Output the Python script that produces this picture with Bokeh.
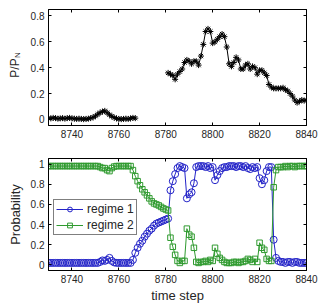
import numpy as np
from bokeh.plotting import figure
from bokeh.layouts import column, row
from bokeh.models import (FixedTicker, LinearAxis, Range1d, Legend,
                          LegendItem, CustomJSTickFormatter)
from bokeh.core.properties import value
from bokeh.embed import file_html
from bokeh.resources import INLINE

# ---- data -------------------------------------------------------------
# normalised power P/P_N, first segment starts at step 8730
power_start_a = 8730
power_a = [0.010, 0.008, 0.012, 0.010, 0.006, 0.008, 0.010, 0.006, 0.010, 0.012,
           0.008, 0.006, 0.004, 0.006, 0.004, 0.002, 0.004, 0.006, 0.010, 0.016,
           0.026, 0.040, 0.052, 0.060, 0.066, 0.052, 0.036, 0.024, 0.014, 0.008,
           0.004, 0.002, 0.004, 0.006, 0.004, 0.008, 0.012, 0.010]
# second segment starts at step 8781
power_start_b = 8781
power_b = [0.36, 0.35, 0.34, 0.31, 0.35, 0.37, 0.39, 0.44, 0.46, 0.45,
           0.43, 0.45, 0.45, 0.42, 0.49, 0.58, 0.68, 0.70, 0.68, 0.59,
           0.60, 0.62, 0.64, 0.66, 0.64, 0.56, 0.43, 0.41, 0.44, 0.48,
           0.46, 0.39, 0.39, 0.42, 0.43, 0.39, 0.41, 0.40, 0.35, 0.38,
           0.38, 0.36, 0.34, 0.27, 0.25, 0.24, 0.24, 0.24, 0.24, 0.245,
           0.23, 0.22, 0.20, 0.18, 0.15, 0.13, 0.14, 0.15, 0.145, 0.15]

# regime probabilities, steps 8730 .. 8840
prob_start = 8730
regime1 = [0.02] * 21 + [
    0.02, 0.03, 0.045, 0.04, 0.05, 0.07, 0.04, 0.025, 0.02, 0.02,   # 8751-8760
    0.02, 0.02, 0.02, 0.02, 0.02, 0.05, 0.12, 0.17, 0.21, 0.24,     # 8761-8770
    0.28, 0.31, 0.34, 0.36, 0.39, 0.41, 0.42, 0.43, 0.44, 0.45,     # 8771-8780
    0.46, 0.74, 0.83, 0.90, 0.96, 0.98, 0.97, 0.96, 0.66, 0.70,     # 8781-8790
    0.72, 0.81, 0.97, 0.98, 0.98, 0.98, 0.97, 0.98, 0.96, 0.97,     # 8791-8800
    0.84, 0.89, 0.93, 0.96, 0.97, 0.97, 0.98, 0.98, 0.98, 0.97,     # 8801-8810
    0.98, 0.98, 0.97, 0.98, 0.96, 0.95, 0.97, 0.96, 0.97, 0.86,     # 8811-8820
    0.80, 0.84, 0.93, 0.97, 0.97, 0.25, 0.07, 0.04, 0.03, 0.03,     # 8821-8830
    0.02, 0.03, 0.03, 0.02, 0.03, 0.03, 0.02, 0.02, 0.02, 0.02]     # 8831-8840
regime2 = [0.98] * 21 + [
    0.98, 0.97, 0.96, 0.96, 0.94, 0.93, 0.96, 0.975, 0.98, 0.98,
    0.98, 0.98, 0.98, 0.98, 0.98, 0.94, 0.88, 0.83, 0.79, 0.75,
    0.72, 0.69, 0.66, 0.63, 0.61, 0.60, 0.59, 0.575, 0.56, 0.55,
    0.54, 0.27, 0.18, 0.10, 0.04, 0.02, 0.04, 0.04, 0.36, 0.30,
    0.28, 0.17, 0.03, 0.02, 0.03, 0.03, 0.04, 0.03, 0.05, 0.04,
    0.17, 0.11, 0.07, 0.05, 0.03, 0.02, 0.02, 0.02, 0.03, 0.03,
    0.02, 0.03, 0.03, 0.04, 0.06, 0.05, 0.03, 0.06, 0.03, 0.22,
    0.17, 0.15, 0.06, 0.04, 0.04, 0.77, 0.94, 0.97, 0.97, 0.97,
    0.98, 0.97, 0.98, 0.98, 0.97, 0.98, 0.98, 0.98, 0.98, 0.98]

x_ticks = [8740, 8760, 8780, 8800, 8820, 8840]
power_ticks = [0, 0.2, 0.4, 0.6, 0.8]
power_tick_labels = ["0", "0.2", "0.4", "0.6", "0.8"]
prob_ticks = [0, 0.2, 0.4, 0.6, 0.8, 1]
prob_tick_labels = ["0", "0.2", "0.4", "0.6", "0.8", "1"]

FONT = "Liberation Sans"
TEXT = "#262626"
BLUE = "#2323c8"
GREEN = "#2f9a2f"

t_a = np.arange(len(power_a)) + power_start_a
t_b = np.arange(len(power_b)) + power_start_b
t_p = np.arange(len(regime1)) + prob_start


def tick_axis(ax, ticks):
    ax.ticker = FixedTicker(ticks=ticks)
    ax.major_tick_in = 3
    ax.major_tick_out = 0
    ax.minor_tick_line_color = None
    ax.axis_line_color = "black"
    ax.major_tick_line_color = "black"
    ax.major_label_text_font = FONT
    ax.major_label_text_font_size = "10px"
    ax.major_label_text_color = TEXT
    ax.major_label_standoff = 4
    ax.axis_label_text_font = FONT
    ax.axis_label_text_font_style = "normal"
    ax.axis_label_text_font_size = "13px"
    ax.axis_label_text_color = TEXT


def style(p, yticks, ylabels):
    bottom = p.below[0]
    left = p.left[0]
    tick_axis(bottom, x_ticks)
    tick_axis(left, yticks)
    left.major_label_overrides = dict(zip(yticks, ylabels))
    # unlabelled mirror axes: inward ticks on the top and right edges
    top = LinearAxis(formatter=CustomJSTickFormatter(code="return ''"))
    right = LinearAxis(formatter=CustomJSTickFormatter(code="return ''"))
    tick_axis(top, x_ticks)
    tick_axis(right, yticks)
    top.major_label_standoff = 0
    right.major_label_standoff = 0
    p.add_layout(top, "above")
    p.add_layout(right, "right")
    p.grid.visible = False
    p.outline_line_color = "black"
    return bottom, left


# ---- upper panel: normalised power ------------------------------------
p1 = figure(width=297, height=145, output_backend="svg", toolbar_location=None,
            x_range=Range1d(8730, 8840), y_range=Range1d(-0.047, 0.85),
            min_border_left=26, min_border_right=13, min_border_top=9,
            min_border_bottom=20)
p1.line(t_a, power_a, color="black", line_width=1)
p1.scatter(t_a, power_a, marker="asterisk", size=6, color="black", line_width=1)
p1.line(t_b, power_b, color="black", line_width=1)
p1.scatter(t_b, power_b, marker="asterisk", size=6, color="black", line_width=1)
style(p1, power_ticks, power_tick_labels)

# narrow strip holding the rotated y label P/P_N (pixel coordinates)
ylab = figure(width=22, height=145, output_backend="svg", toolbar_location=None,
              x_range=Range1d(0, 22), y_range=Range1d(0, 145),
              min_border=0, outline_line_color=None)
ylab.axis.visible = False
ylab.grid.visible = False
ylab.text(x=[14.5], y=[84], text=["P/P"], angle=np.pi / 2,
          text_align="right", text_baseline="alphabetic",
          text_font=value(FONT), text_font_size="12px", text_color=TEXT)
ylab.text(x=[17], y=[84.5], text=["N"], angle=np.pi / 2,
          text_align="left", text_baseline="alphabetic",
          text_font=value(FONT), text_font_size="8px", text_color=TEXT)

# ---- lower panel: regime probabilities --------------------------------
p2 = figure(width=319, height=160, output_backend="svg", toolbar_location=None,
            x_range=Range1d(8730, 8840), y_range=Range1d(-0.055, 1.055),
            min_border_left=48, min_border_right=13, min_border_top=13,
            min_border_bottom=31)
l1 = p2.line(t_p, regime1, color=BLUE, line_width=1)
s1 = p2.scatter(t_p, regime1, marker="circle", size=7, line_color=BLUE,
                fill_color=None, line_width=1)
l2 = p2.line(t_p, regime2, color=GREEN, line_width=1)
s2 = p2.scatter(t_p, regime2, marker="square", size=5.5, line_color=GREEN,
                fill_color=None, line_width=1)
xb, yl = style(p2, prob_ticks, prob_tick_labels)
xb.axis_label = "time step"
xb.axis_label_standoff = 2
yl.axis_label = "Probability"
yl.axis_label_standoff = 5

legend = Legend(items=[LegendItem(label="regime 1", renderers=[l1, s1]),
                       LegendItem(label="regime 2", renderers=[l2, s2])],
                location=(5, 35), border_line_color="black", border_line_width=1,
                background_fill_alpha=1, label_text_font=FONT,
                label_text_font_size="12px", label_text_color=TEXT,
                glyph_width=27, glyph_height=12, label_height=12,
                label_standoff=4, spacing=2, padding=2, margin=0)
p2.add_layout(legend)

layout = column(row(ylab, p1, spacing=0), p2, spacing=0)
open("out.html", "w").write(file_html(layout, INLINE))
